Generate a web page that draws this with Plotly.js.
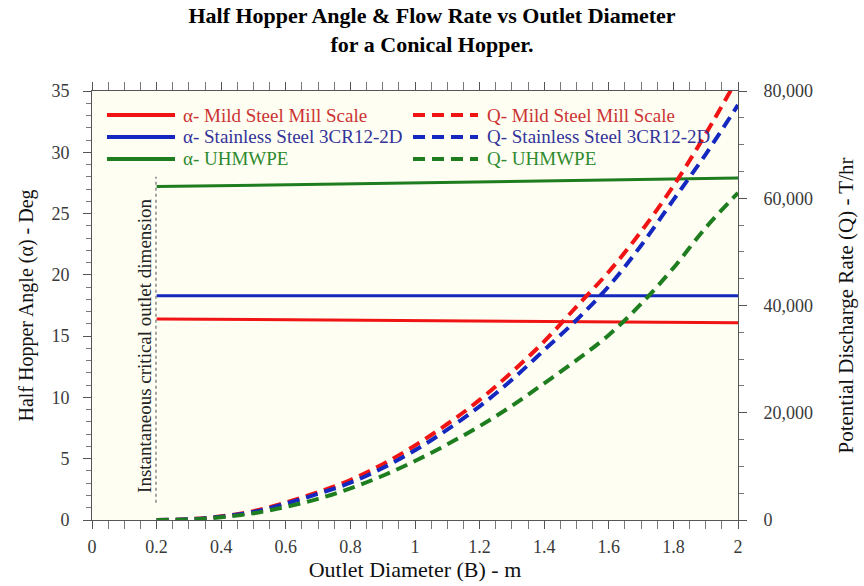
<!DOCTYPE html>
<html>
<head>
<meta charset="utf-8">
<script src="https://cdn.plot.ly/plotly-3.0.1.min.js"></script>
<style>html,body{margin:0;padding:0;background:#fff;}#chart{width:864px;height:586px;}</style>
</head>
<body>
<div id="chart"></div>
<script>
// Outlet diameter B (m)
const diameter = [0.2, 2.0];
const qDiameter = [0.2, 0.3, 0.4, 0.5, 0.6, 0.7, 0.8, 0.9, 1.0, 1.1, 1.2, 1.3, 1.4, 1.5, 1.6, 1.7, 1.8, 1.9, 2.0];

// Half hopper angle alpha (deg)
const alphaMild = [16.4, 16.1];
const alphaStainless = [18.3, 18.3];
const alphaUhmwpe = [27.2, 27.9];

// Potential discharge rate Q (T/hr)
const qMild = [0, 150, 680, 1650, 3250, 5200, 7460, 10400, 13900, 17900, 22400, 27600, 33300, 39800, 46300, 53800, 62300, 72000, 82500];
const qStainless = [0, 135, 615, 1500, 3050, 4900, 6950, 9700, 13000, 16850, 21200, 26150, 31700, 37300, 43600, 51200, 59700, 68200, 77400];
const qUhmwpe = [0, 100, 520, 1250, 2450, 3950, 5900, 8250, 11000, 14100, 17500, 21300, 25500, 29800, 34500, 40300, 47000, 54500, 61000];

// Critical outlet dimension marker
const criticalX = [0.198, 0.198];
const criticalY = [1.4, 28.0];

// Legend labels
const alphaLabels = ['α- Mild Steel Mill Scale', 'α- Stainless Steel 3CR12-2D', 'α- UHMWPE'];
const qLabels = ['Q- Mild Steel Mill Scale', 'Q- Stainless Steel 3CR12-2D', 'Q- UHMWPE'];

const serif = 'Liberation Serif';
const LINE_COLORS = ['#f01414', '#1428c0', '#1e7d1e'];
const TEXT_COLORS = ['#cc3333', '#33339a', '#2f8a2f'];
const DASH = '12px,7px';

const alphaSeries = [alphaMild, alphaStainless, alphaUhmwpe];
const qSeries = [qMild, qStainless, qUhmwpe];

const traces = [];
alphaSeries.forEach((ys, i) => traces.push({
  x: diameter, y: ys, mode: 'lines', name: alphaLabels[i], showlegend: false,
  line: {color: LINE_COLORS[i], width: 3}
}));
qSeries.forEach((ys, i) => traces.push({
  x: qDiameter, y: ys, yaxis: 'y2', mode: 'lines', name: qLabels[i], showlegend: false,
  line: {color: LINE_COLORS[i], width: 4, dash: DASH, shape: 'spline'}
}));
traces.push({x: criticalX, y: criticalY, mode: 'lines', showlegend: false, hoverinfo: 'skip',
  line: {color: '#888', width: 1.5, dash: 'dot'}});

// Hand-built two-column legend (paper coordinates inside the plot area)
const legendRowsY = [0.944, 0.893, 0.8415];
const legendCols = [
  {x0: 0.0232, x1: 0.1285, tx: 0.1378, labels: alphaLabels, dash: 'solid'},
  {x0: 0.4969, x1: 0.5975, tx: 0.6084, labels: qLabels, dash: DASH}
];
const shapes = [];
const annotations = [];
legendCols.forEach(col => {
  col.labels.forEach((t, i) => {
    shapes.push({type: 'line', xref: 'paper', yref: 'paper',
      x0: col.x0, x1: col.x1, y0: legendRowsY[i], y1: legendRowsY[i],
      line: {color: LINE_COLORS[i], width: 4, dash: col.dash}});
    annotations.push({xref: 'paper', yref: 'paper', x: col.tx, y: legendRowsY[i],
      xanchor: 'left', yanchor: 'middle', showarrow: false, text: t,
      font: {family: serif, size: 19, color: TEXT_COLORS[i]}});
  });
});
annotations.push({
  x: 0.198, y: 14.2, xref: 'x', yref: 'y',
  text: 'Instantaneous critical outlet dimension',
  textangle: -90, showarrow: false, xshift: -11,
  font: {family: serif, size: 19, color: '#222'}
});

const tickFont = {family: serif, size: 18, color: '#3a3a3a'};

const layout = {
  width: 864, height: 586,
  margin: {l: 92, r: 126, t: 91, b: 66},
  font: {family: serif, size: 18, color: '#222'},
  paper_bgcolor: '#ffffff',
  plot_bgcolor: '#fefef2',
  showlegend: false,
  title: {
    text: '<b>Half Hopper Angle &amp; Flow Rate vs Outlet Diameter<br>for a Conical Hopper.</b>',
    font: {family: serif, size: 22, color: '#000'},
    x: 0.5, xanchor: 'center', yref: 'container', y: 0.96, yanchor: 'middle'
  },
  xaxis: {
    range: [0, 2], dtick: 0.2, tick0: 0,
    showgrid: false, zeroline: false,
    showline: true, linecolor: '#555', linewidth: 1, mirror: 'allticks',
    ticks: 'outside', ticklen: 8, tickcolor: '#555',
    minor: {dtick: 0.05, ticks: 'outside', ticklen: 5, tickcolor: '#777', showgrid: false},
    tickfont: tickFont, ticklabelstandoff: 2,
    title: {text: 'Outlet Diameter (B) - m', font: {family: serif, size: 22, color: '#111'}, standoff: 6}
  },
  yaxis: {
    range: [0, 35], dtick: 5, tick0: 0,
    showgrid: false, zeroline: false,
    showline: true, linecolor: '#555', linewidth: 1,
    ticks: 'outside', ticklen: 8, tickcolor: '#555',
    minor: {dtick: 1, ticks: 'outside', ticklen: 5, tickcolor: '#777', showgrid: false},
    tickfont: tickFont, ticklabelstandoff: 10,
    title: {text: 'Half Hopper Angle (α) - Deg', font: {family: serif, size: 20, color: '#111'}, standoff: 12}
  },
  yaxis2: {
    overlaying: 'y', side: 'right',
    range: [0, 80000], dtick: 20000, tick0: 0, tickformat: ',d',
    showgrid: false, zeroline: false,
    showline: true, linecolor: '#555', linewidth: 1,
    ticks: 'outside', ticklen: 8, tickcolor: '#555',
    minor: {dtick: 5000, ticks: 'outside', ticklen: 5, tickcolor: '#777', showgrid: false},
    tickfont: tickFont, ticklabelstandoff: 13,
    title: {text: 'Potential Discharge Rate (Q) - T/hr', font: {family: serif, size: 21, color: '#111'}, standoff: 26}
  },
  shapes: shapes,
  annotations: annotations
};

Plotly.newPlot('chart', traces, layout, {displayModeBar: false, staticPlot: true});
</script>
</body>
</html>
